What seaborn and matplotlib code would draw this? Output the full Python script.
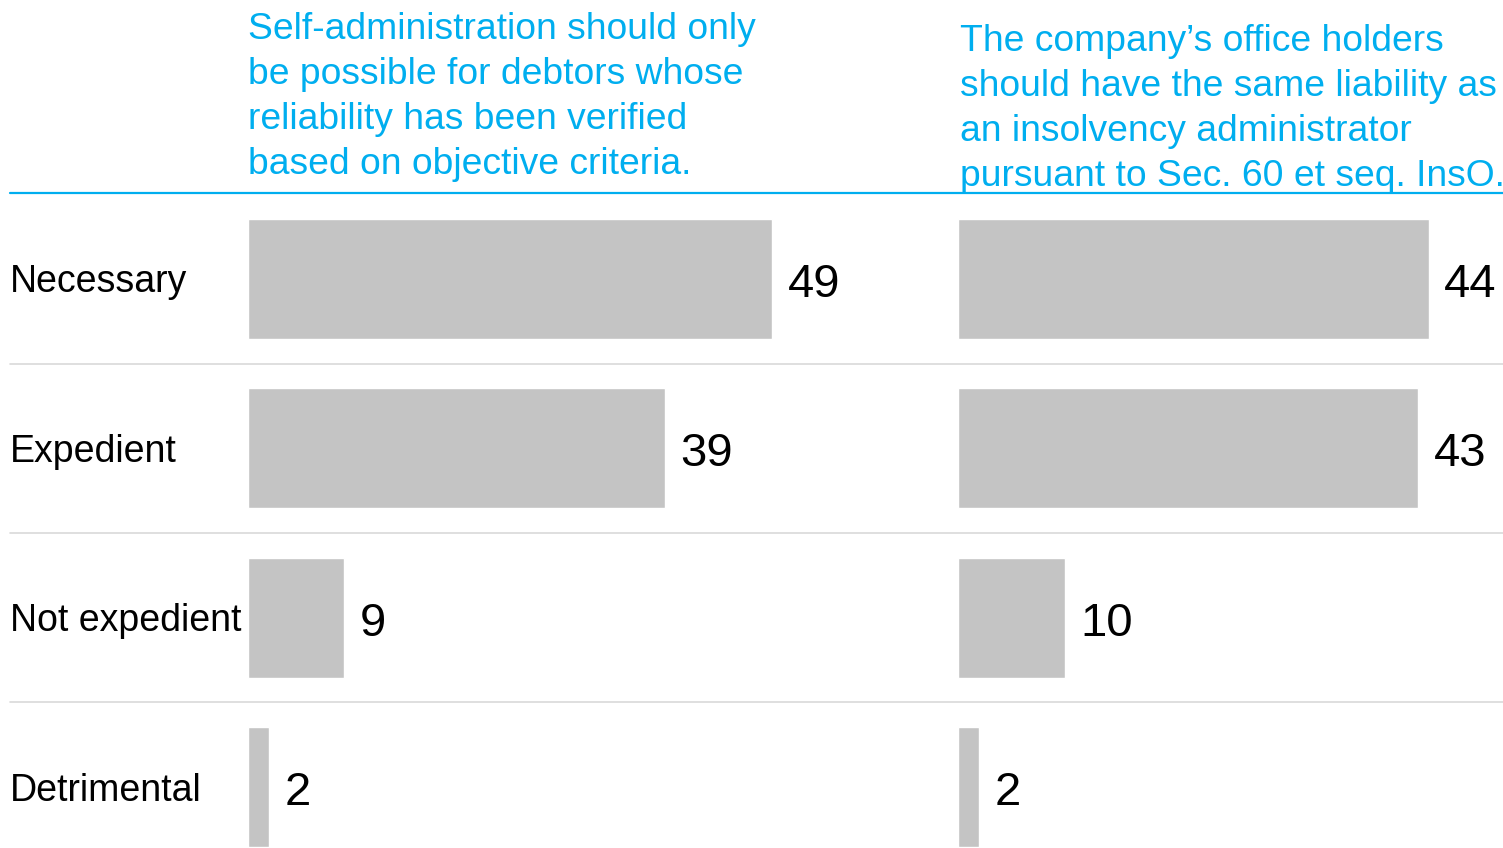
import pandas as pd
import numpy as np
import matplotlib
matplotlib.use("Agg")
import matplotlib.pyplot as plt
import matplotlib.transforms as mtransforms
from matplotlib.lines import Line2D
import seaborn as sns

# data
categories = ["Necessary", "Expedient", "Not expedient", "Detrimental"]
self_admin = [49, 39, 9, 2]
liability = [44, 43, 10, 2]
header_left = ["Self-administration should only",
               "be possible for debtors whose",
               "reliability has been verified",
               "based on objective criteria."]
header_right = ["The company\u2019s office holders",
                "should have the same liability as",
                "an insolvency administrator",
                "pursuant to Sec. 60 et seq. InsO."]

BLUE = "#00AEEF"
GREY = "#C4C4C4"
SEP = "#D9D9D9"

sns.set_theme(style="white")
plt.rcParams["font.family"] = ["Liberation Sans", "DejaVu Sans"]

W, H = 1503, 848
fig = plt.figure(figsize=(W / 100, H / 100), dpi=100)

top_px = 193
ax_bottom = 0
ax_height = (H - top_px) / H
px_per_unit = 10.7

df = pd.DataFrame({"category": categories,
                   "self_admin": self_admin,
                   "liability": liability})

panels = [("self_admin", 248, 60), ("liability", 958, 50)]
axes = []
for col, left_px, xmax in panels:
    ax = fig.add_axes([left_px / W, ax_bottom, xmax * px_per_unit / W, ax_height])
    sns.barplot(data=df, x=col, y="category", ax=ax, color=GREY,
                width=0.71, orient="h", saturation=1)
    ax.set_xlim(0, xmax)
    ax.set_ylim(3.36, -0.508)
    ax.axis("off")
    for i, v in enumerate(df[col]):
        ax.annotate(str(v), xy=(v, i), xytext=(11, -13), textcoords="offset points",
                    ha="left", va="baseline", fontsize=34, color="black")
    axes.append(ax)

# category labels
blend = mtransforms.blended_transform_factory(fig.transFigure, axes[0].transData)
for i, cat in enumerate(categories):
    axes[0].annotate(cat, xy=(10 / W, i), xycoords=blend, xytext=(0, -9.7),
                     textcoords="offset points", ha="left", va="baseline",
                     fontsize=27, color="black")

# separators
for y in [0.5, 1.5, 2.5]:
    fig.add_artist(Line2D([10 / W, 1], [y, y], transform=blend, color=SEP, lw=1.2))
fig.add_artist(Line2D([10 / W, 1], [1 - top_px / H] * 2, transform=fig.transFigure,
                      color=BLUE, lw=1.6))

# headers
line_gap = 45
for lines, x_px, first_base in [(header_left, 248, 39), (header_right, 960, 51)]:
    for k, line in enumerate(lines):
        fig.text(x_px / W, 1 - (first_base + k * line_gap) / H, line,
                 ha="left", va="baseline", fontsize=26.8, color=BLUE)

fig.savefig("out.png", dpi=100)
